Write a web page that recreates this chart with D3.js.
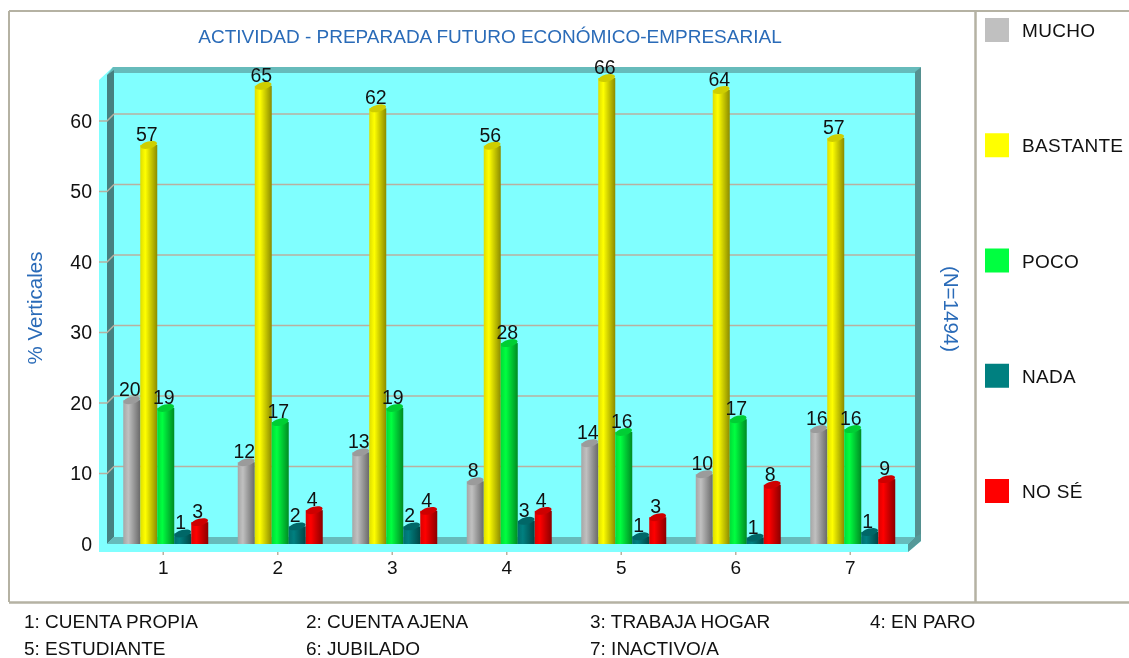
<!DOCTYPE html>
<html><head><meta charset="utf-8">
<script src="https://cdn.jsdelivr.net/npm/d3@7"></script>
<style>html,body{margin:0;background:#fff}svg{display:block;filter:blur(0.45px)}text{font-family:"Liberation Sans",Arial,sans-serif}</style>
</head><body><svg id="c" width="1129" height="658"></svg>
<script>
const categories = ["1","2","3","4","5","6","7"];
const seriesNames = ["MUCHO","BASTANTE","POCO","NADA","NO SÉ"];
const seriesColors = ["#c0c0c0","#ffff00","#00ff40","#008080","#ff0000"];
const mucho = [20.4,11.6,13.0,8.9,14.3,9.9,16.3];
const bastante = [56.6,65.0,61.8,56.5,66.1,64.4,57.6];
const poco = [19.3,17.3,19.3,28.5,15.9,17.7,16.3];
const nada = [1.5,2.5,2.5,3.3,1.1,0.9,1.7];
const noSe = [3.1,4.8,4.7,4.7,3.8,8.4,9.2];
const muchoLabels = [20,12,13,8,14,10,16];
const bastanteLabels = [57,65,62,56,66,64,57];
const pocoLabels = [19,17,19,28,16,17,16];
const nadaLabels = [1,2,2,3,1,1,1];
const noSeLabels = [3,4,4,4,3,8,9];
const yTicks = [0,10,20,30,40,50,60];
const footer = ["1: CUENTA PROPIA","2: CUENTA AJENA","3: TRABAJA HOGAR","4: EN PARO","5: ESTUDIANTE","6: JUBILADO","7: INACTIVO/A"];
const values = [mucho,bastante,poco,nada,noSe];
const labels = [muchoLabels,bastanteLabels,pocoLabels,nadaLabels,noSeLabels];

const svg = d3.select("#c");
const y = d3.scaleLinear().domain([0,60]).range([544,121]);
const x = d3.scaleBand().domain(categories).range([106,907.5]);
const s = d3.scaleBand().domain(seriesNames).range([-40,45]);
const L=99,R=908,B=552;
const frame="#b5b2a3";

// gradients
const defs=svg.append("defs");
seriesColors.forEach((c,i)=>{
  const base=d3.color(c);
  const g=defs.append("linearGradient").attr("id","g"+i);
  g.append("stop").attr("offset","0").attr("stop-color",base.darker(0.4));
  g.append("stop").attr("offset","0.3").attr("stop-color",c);
  g.append("stop").attr("offset","0.55").attr("stop-color",base.darker(0.5));
  g.append("stop").attr("offset","1").attr("stop-color",base.darker(1.7));
});

// frames
const ln=(a,b,c,d,col,w)=>svg.append("line").attr("x1",a).attr("y1",b).attr("x2",c).attr("y2",d).attr("stroke",col).attr("stroke-width",w);
ln(9,11,1129,11,frame,2); ln(9,11,9,602,frame,2); ln(975.5,11,975.5,602,frame,2.5); ln(9,602.5,1129,602.5,frame,2.5);

// 3D box
const poly=(p,f)=>svg.append("polygon").attr("points",p.map(q=>q.join(",")).join(" ")).attr("fill",f);
poly([[L,80],[113,67],[921,67],[921,541],[R,552],[L,552]],"#80ffff");
poly([[107,75],[113,67],[921,67],[915,73],[114,73]],"#66bbbb");
poly([[107,75],[114,70],[114,537],[107,544]],"#468080");
poly([[915,72],[921,67],[921,541],[915,537]],"#559090");
poly([[107,544],[114,537],[915,537],[908,544]],"#66bbbb");
poly([[908,544],[915,537],[921,534],[921,541],[908,552]],"#559999");

// gridlines
const gridCol="#b8b0a0";
yTicks.forEach(t=>{
  if(t>0) ln(114,y(t)-7,915,y(t)-7,gridCol,1.5);
  if(t>0) svg.append("path").attr("d",d3.line()([[L,y(t)],[107,y(t)],[114,y(t)-7]])).attr("fill","none").attr("stroke",gridCol).attr("stroke-width",1.5);
});

// axes
const ay=svg.append("g").attr("transform","translate(92,0)").call(d3.axisLeft(y).tickValues(yTicks).tickSize(0).tickPadding(0));
ay.select(".domain").remove();
ay.selectAll("text").attr("font-size",19.5).attr("fill","#111").attr("font-family","Liberation Sans");
const ax=svg.append("g").attr("transform","translate(0,552)").call(d3.axisBottom(x).tickSize(3).tickPadding(6));
ax.select(".domain").remove();
ax.selectAll("line").attr("stroke",gridCol).attr("stroke-width",1.5);
ax.selectAll("text").attr("font-size",19).attr("fill","#111").attr("font-family","Liberation Sans");

// bars
seriesNames.forEach((name,i)=>{
  const g=svg.append("g");
  const w=s.bandwidth();
  categories.forEach((c,j)=>{
    const v=values[i][j], bx=x(c)+x.bandwidth()/2+s(name), ty=y(v);
    g.append("rect").attr("x",bx).attr("y",ty).attr("width",w).attr("height",y(0)-ty).attr("fill",`url(#g${i})`);
    g.append("ellipse").attr("cx",bx+w/2).attr("cy",ty).attr("rx",w/2).attr("ry",3.5)
      .attr("transform",`rotate(-14 ${bx+w/2} ${ty})`)
      .attr("fill",d3.color(seriesColors[i]).darker(0.6));
    g.append("text").attr("x",bx+w/2-2).attr("y",ty-4).attr("text-anchor","middle")
      .attr("font-size",19.5).attr("fill","#111").text(labels[i][j]);
  });
});

// title and side labels
const blue="#2a6bb8";
svg.append("text").attr("x",490).attr("y",43).attr("text-anchor","middle").attr("font-size",19).attr("fill",blue).text("ACTIVIDAD - PREPARADA FUTURO ECONÓMICO-EMPRESARIAL");
svg.append("text").attr("transform","translate(42,308) rotate(-90)").attr("text-anchor","middle").attr("font-size",20.5).attr("fill",blue).text("% Verticales");
svg.append("text").attr("transform","translate(944,309) rotate(90)").attr("text-anchor","middle").attr("font-size",20.5).attr("fill",blue).text("(N=1494)");

// legend
const ly=d3.scalePoint().domain(seriesNames).range([30,491]);
seriesNames.forEach((n,i)=>{
  svg.append("rect").attr("x",985).attr("y",ly(n)-12).attr("width",24).attr("height",24).attr("fill",seriesColors[i]);
  svg.append("text").attr("x",1022).attr("y",ly(n)+7).attr("font-size",19).attr("letter-spacing",0.3).attr("fill","#111").text(n);
});

// footer
const fx=[24,306,590,870];
footer.forEach((t,i)=>{
  svg.append("text").attr("x",fx[i%4]).attr("y",i<4?628:655).attr("font-size",19).attr("fill","#111").text(t);
});
</script></body></html>
